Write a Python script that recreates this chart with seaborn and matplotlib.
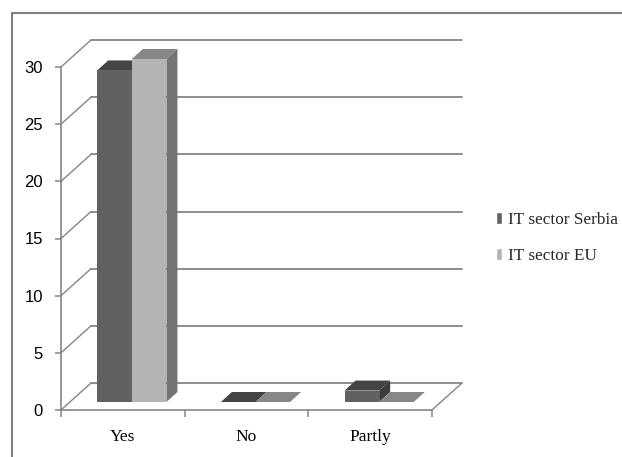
import matplotlib
matplotlib.use("Agg")
import matplotlib.pyplot as plt
from matplotlib.patches import Polygon
from matplotlib.lines import Line2D
import seaborn as sns
import pandas as pd

categories = ["Yes", "No", "Partly"]
series_names = ["IT sector Serbia", "IT sector EU"]
serbia_values = [29, 0, 1]
eu_values = [30, 0, 0]
y_ticks = [0, 5, 10, 15, 20, 25, 30]

df = pd.DataFrame({
    "answer": categories * 2,
    "sector": [series_names[0]] * len(categories) + [series_names[1]] * len(categories),
    "count": serbia_values + eu_values,
})

front_colors = {series_names[0]: "#616161", series_names[1]: "#b4b4b4"}
top_colors = {series_names[0]: "#444444", series_names[1]: "#878787"}
side_colors = {series_names[0]: "#3b3b3b", series_names[1]: "#747474"}
grid_color = "#858585"

DPI = 100
W, H = 622, 457
sns.set_theme(style="white")
plt.rcParams["font.family"] = ["Liberation Serif", "DejaVu Serif"]

fig = plt.figure(figsize=(W / DPI, H / DPI), dpi=DPI)
fig.patch.set_facecolor("white")
ax = fig.add_axes([61 / W, 47 / H, 371 / W, 343 / H])
ax.set_facecolor("none")

sns.barplot(data=df, x="answer", y="count", hue="sector", order=categories,
            hue_order=series_names, palette=front_colors, width=0.56,
            saturation=1, errorbar=None, ax=ax, zorder=5)
ax.set_xlim(-0.5, 2.5)
ax.set_ylim(0, 30)

# pixel -> data conversion for the oblique projection
px_x = (ax.transData.transform((1, 0))[0] - ax.transData.transform((0, 0))[0])
px_y = (ax.transData.transform((0, 1))[1] - ax.transData.transform((0, 0))[1])


def off(dx, dy):
    return dx / px_x, dy / px_y


plane_dx, plane_dy = off(9, 8)      # bars stand a little behind the front edge
depth_dx, depth_dy = off(11, 10)    # depth of each bar
wall_dx, wall_dy = off(30, 27)      # back wall

# back wall gridlines and side-wall diagonals
x0, x1 = -0.5, 2.5
for v in y_ticks:
    ax.add_line(Line2D([x0 + wall_dx, x1 + wall_dx], [v + wall_dy, v + wall_dy],
                       color=grid_color, lw=1.3, clip_on=False, zorder=1))
    ax.add_line(Line2D([x0, x0 + wall_dx], [v, v + wall_dy],
                       color=grid_color, lw=1.0, clip_on=False, zorder=1))
ax.add_line(Line2D([x1, x1 + wall_dx], [0, wall_dy], color=grid_color,
                   lw=1.0, clip_on=False, zorder=1))

# turn flat bars into boxes
for container, name in zip(ax.containers, series_names):
    for bar in container:
        bx = bar.get_x() + plane_dx
        bw = bar.get_width()
        bh = bar.get_height()
        by = plane_dy
        bar.set_x(bx)
        bar.set_y(by)
        bar.set_edgecolor("none")
        bar.set_clip_on(False)
        top = Polygon([(bx, by + bh), (bx + bw, by + bh),
                       (bx + bw + depth_dx, by + bh + depth_dy),
                       (bx + depth_dx, by + bh + depth_dy)],
                      closed=True, facecolor=top_colors[name], edgecolor="none",
                      clip_on=False, zorder=4)
        ax.add_patch(top)
        if bh > 0:
            side = Polygon([(bx + bw, by), (bx + bw + depth_dx, by + depth_dy),
                            (bx + bw + depth_dx, by + bh + depth_dy),
                            (bx + bw, by + bh)],
                           closed=True, facecolor=side_colors[name], edgecolor="none",
                           clip_on=False, zorder=4)
            ax.add_patch(side)

# keep later bars in front of earlier bars' sides
for i, container in enumerate(ax.containers):
    for bar in container:
        bar.set_zorder(5 + i)

# front axes
for s in ["top", "right"]:
    ax.spines[s].set_visible(False)
for s in ["left", "bottom"]:
    ax.spines[s].set_color(grid_color)
    ax.spines[s].set_linewidth(1.2)
ax.set_yticks(y_ticks)
ax.set_yticklabels([str(v) for v in y_ticks],
                   fontfamily=["Liberation Sans", "DejaVu Sans"], fontsize=12)
ax.tick_params(axis="y", direction="out", length=4, width=1.1, color=grid_color,
               pad=9, left=True, labelcolor="black")
ax.set_xticks(range(len(categories)))
ax.set_xticklabels(categories, fontsize=12.5)
ax.set_xticks([-0.5, 0.5, 1.5, 2.5], minor=True)
ax.tick_params(axis="x", which="major", length=0, pad=14, labelcolor="black")
ax.tick_params(axis="x", which="minor", direction="out", length=5, width=1.1,
               color=grid_color, bottom=True)
ax.set_xlabel("")
ax.set_ylabel("")

handles, labels = ax.get_legend_handles_labels()
ax.get_legend().remove()
leg = fig.legend(handles, labels, loc="center left", bbox_to_anchor=(496 / W, 1 - 238 / H),
                 frameon=False, fontsize=12.5, handlelength=0.32, handleheight=0.7,
                 handletextpad=0.35, labelspacing=1.1, borderpad=0, borderaxespad=0)

# size the legend text so the longest label spans about 110 px
renderer = fig.canvas.get_renderer()
label_w = leg.get_texts()[0].get_window_extent(renderer).width
if label_w > 0:
    new_size = 12.5 * 110 / label_w
    for t in leg.get_texts():
        t.set_fontsize(new_size)

# chart border
fig.add_artist(Line2D([12 / W, 1.02], [1 - 13 / H, 1 - 13 / H], transform=fig.transFigure,
                      color="#7f7f7f", lw=1.5))
fig.add_artist(Line2D([12 / W, 12 / W], [-0.02, 1 - 13 / H], transform=fig.transFigure,
                      color="#7f7f7f", lw=1.5))

fig.savefig("out.png", dpi=DPI)
